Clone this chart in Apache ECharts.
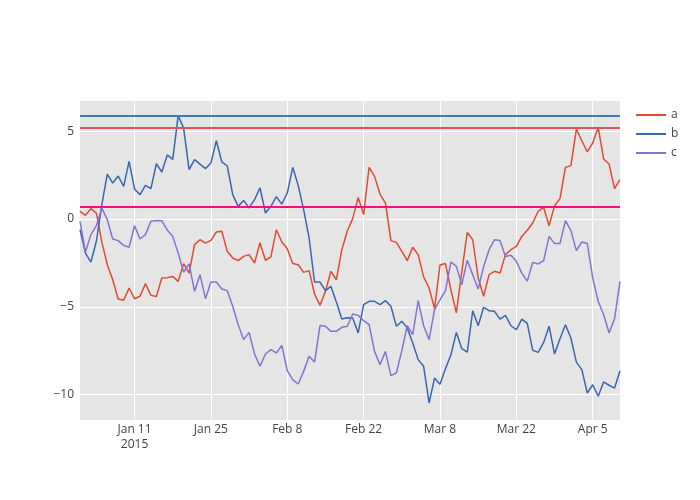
<!DOCTYPE html>
<html>
<head>
<meta charset="utf-8">
<script src="https://cdn.jsdelivr.net/npm/echarts@6/dist/echarts.min.js"></script>
<style>html,body{margin:0;padding:0;background:#fff;}#main{width:700px;height:500px;}</style>
</head>
<body>
<div id="main"></div>
<script>
// Daily dates: 2015-01-01 .. 2015-04-10 (100 days)
var startDate = '2015-01-01';
var dayCount = 100;

var seriesA = [0.44,0.21,0.59,0.34,-1.3,-2.6,-3.46,-4.56,-4.63,-3.93,
  -4.54,-4.4,-3.68,-4.35,-4.42,-3.36,-3.34,-3.27,-3.55,-2.54,
  -3.08,-1.46,-1.18,-1.37,-1.22,-0.74,-0.7,-1.84,-2.22,-2.37,
  -2.13,-2.03,-2.51,-1.35,-2.35,-2.16,-0.61,-1.31,-1.69,-2.54,
  -2.6,-3.04,-2.94,-4.27,-4.92,-4.12,-2.98,-3.46,-1.75,-0.68,
  0.02,1.23,0.25,2.94,2.43,1.42,0.91,-1.23,-1.33,-1.84,
  -2.37,-1.61,-2.03,-3.3,-3.93,-5.1,-2.62,-2.54,-4.03,-5.35,
  -3.0,-0.76,-1.18,-3.36,-4.4,-3.17,-2.98,-3.08,-2.03,-1.75,
  -1.56,-0.99,-0.64,-0.23,0.44,0.66,-0.38,0.76,1.16,2.94,
  3.04,5.12,4.46,3.82,4.33,5.22,3.42,3.13,1.73,2.24];

var seriesB = [-0.6,-1.94,-2.45,-1.27,0.8,2.56,2.05,2.45,1.86,3.28,
  1.71,1.39,1.92,1.73,3.15,2.68,3.65,3.4,5.88,5.18,
  2.81,3.38,3.13,2.87,3.19,4.46,3.25,3.02,1.39,0.72,
  1.06,0.63,1.1,1.78,0.34,0.72,1.27,0.85,1.48,2.94,
  1.92,0.53,-1.08,-3.59,-3.59,-4.08,-3.84,-4.73,-5.7,-5.62,
  -5.64,-6.49,-4.88,-4.69,-4.69,-4.88,-4.65,-4.97,-6.11,-5.83,
  -6.21,-7.06,-8.01,-8.39,-10.48,-9.06,-9.42,-8.53,-7.73,-6.46,
  -7.39,-7.58,-5.22,-6.08,-5.03,-5.22,-5.26,-5.7,-5.49,-6.08,
  -6.3,-5.7,-5.95,-7.48,-7.6,-7.03,-6.11,-7.69,-6.82,-6.02,
  -6.78,-8.15,-8.58,-9.91,-9.44,-10.1,-9.28,-9.47,-9.63,-8.64];

var seriesC = [-0.13,-1.88,-0.89,-0.38,0.63,-0.04,-1.14,-1.23,-1.5,-1.61,
  -0.38,-1.14,-0.89,-0.13,-0.08,-0.1,-0.63,-0.99,-1.94,-3.02,
  -2.56,-4.12,-3.17,-4.54,-3.59,-3.59,-3.99,-4.08,-4.97,-6.02,
  -6.87,-6.46,-7.69,-8.39,-7.69,-7.44,-7.63,-7.2,-8.64,-9.15,
  -9.4,-8.68,-7.82,-8.15,-6.06,-6.11,-6.4,-6.4,-6.17,-6.11,
  -5.41,-5.49,-5.79,-6.02,-7.54,-8.3,-7.54,-8.92,-8.77,-7.5,
  -6.08,-6.59,-4.65,-6.08,-6.87,-5.16,-4.6,-4.08,-2.45,-2.7,
  -3.74,-2.35,-3.17,-3.99,-2.7,-1.75,-1.18,-1.23,-2.13,-2.07,
  -2.41,-3.08,-3.55,-2.47,-2.56,-2.37,-0.99,-1.4,-1.39,-0.09,
  -0.66,-1.8,-1.31,-1.4,-3.36,-4.69,-5.45,-6.49,-5.68,-3.55];

var hlineA = 5.22;   // red reference line
var hlineB = 5.88;   // blue reference line
var hlineMid = 0.72; // magenta reference line

var tickDates = ['2015-01-11','2015-01-25','2015-02-08','2015-02-22','2015-03-08','2015-03-22','2015-04-05'];
var tickLabels = ['Jan 11\n2015','Jan 25','Feb 8','Feb 22','Mar 8','Mar 22','Apr 5'];

// build category list of ISO dates
var dates = [];
(function(){
  var d0 = new Date(startDate + 'T00:00:00Z');
  for (var i = 0; i < dayCount; i++) {
    var d = new Date(d0.getTime() + i * 86400000);
    dates.push(d.toISOString().slice(0, 10));
  }
})();

var labelMap = {};
tickDates.forEach(function(d, i){ labelMap[d] = tickLabels[i]; });
function isTick(idx){ return labelMap.hasOwnProperty(dates[idx]); }

var font = 'Open Sans';
var chart = echarts.init(document.getElementById('main'), null, {renderer: 'canvas'});

function hline(v, color){
  return {
    silent: true, symbol: ['none','none'], animation: false,
    label: {show: false},
    lineStyle: {color: color, width: 2, type: 'solid', opacity: 1},
    emphasis: {disabled: true},
    data: [{yAxis: v}]
  };
}

chart.setOption({
  animation: false,
  backgroundColor: '#fff',
  textStyle: {fontFamily: font},
  grid: {left: 80, right: 80, top: 100, bottom: 80, show: true, backgroundColor: '#E5E5E5', borderWidth: 0},
  legend: {
    orient: 'vertical', left: 631, top: 103,
    itemWidth: 30, itemHeight: 2, itemGap: 5, icon: 'rect',
    textStyle: {fontFamily: font, fontSize: 12, color: '#444', lineHeight: 14},
    data: ['a','b','c']
  },
  xAxis: {
    type: 'category', data: dates, boundaryGap: false,
    axisLine: {show: false}, axisTick: {show: false},
    axisLabel: {
      interval: function(idx){ return isTick(idx); },
      formatter: function(v){ return labelMap[v] || ''; },
      color: '#444', fontFamily: font, fontSize: 12, margin: 2, lineHeight: 15
    },
    splitLine: {show: true, interval: function(idx){ return isTick(idx); }, lineStyle: {color: '#fff', width: 1}}
  },
  yAxis: {
    type: 'value', min: -11.45, max: 6.78, splitNumber: 4, minInterval: 5, maxInterval: 5,
    axisLine: {show: false}, axisTick: {show: false},
    axisLabel: {
      showMinLabel: false, showMaxLabel: false,
      formatter: function(v){ return (Math.abs(v % 5) < 1e-9) ? String(v).replace('-', '\u2212') : ''; },
      color: '#444', fontFamily: font, fontSize: 12, margin: 6
    },
    splitLine: {show: true, lineStyle: {color: '#fff', width: 1}}
  },
  series: [
    {name: 'a', type: 'line', data: seriesA, showSymbol: false, symbol: 'none',
     lineStyle: {color: '#E24A33', width: 1.5}, itemStyle: {color: '#E24A33'},
     markLine: hline(hlineA, '#E0525A')},
    {name: 'b', type: 'line', data: seriesB, showSymbol: false, symbol: 'none',
     lineStyle: {color: '#3A67AE', width: 1.5}, itemStyle: {color: '#3A67AE'},
     markLine: hline(hlineB, '#3A7EC2')},
    {name: 'c', type: 'line', data: seriesC, showSymbol: false, symbol: 'none',
     lineStyle: {color: '#8474D2', width: 1.5}, itemStyle: {color: '#8474D2'},
     markLine: hline(hlineMid, '#FF0A85')}
  ]
});
</script>
</body>
</html>
